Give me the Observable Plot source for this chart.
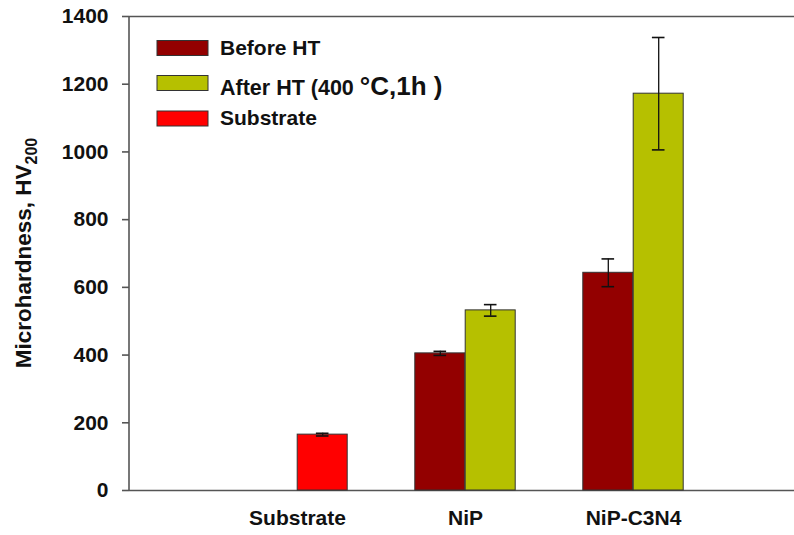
<!DOCTYPE html>
<html>
<head>
<meta charset="utf-8">
<script src="https://cdn.jsdelivr.net/npm/d3@7"></script>
<script src="https://cdn.jsdelivr.net/npm/@observablehq/plot@0.6"></script>
<style>
  html, body { margin: 0; padding: 0; background: #fff; overflow: hidden; }
  #chart { position: relative; width: 794px; height: 535px; }
  svg { font-family: "Liberation Sans", Arial, sans-serif; }
</style>
</head>
<body>
<div id="chart"></div>
<script>
// ---- data ----
const categories = ["Substrate", "NiP", "NiP-C3N4"];
const beforeHT = [null, 405, 643];
const beforeErr = [null, 6, 41];
const afterHT = [null, 532, 1172];
const afterErr = [null, 17, 166];
const substrateVals = [165, null, null];
const substrateErr = [4, null, null];
const seriesNames = ["Before HT", "After HT (400 °C,1h )", "Substrate"];
const seriesColors = ["#930000", "#b6c000", "#ff0000"];
const yTicks = [0, 200, 400, 600, 800, 1000, 1200, 1400];

// table: slot gives side within the category (-1 left, +1 right)
const rows = [];
categories.forEach((c, i) => {
  if (beforeHT[i] != null) rows.push({cat: c, series: seriesNames[0], value: beforeHT[i], err: beforeErr[i], slot: -1});
  if (afterHT[i] != null) rows.push({cat: c, series: seriesNames[1], value: afterHT[i], err: afterErr[i], slot: 1});
  if (substrateVals[i] != null) rows.push({cat: c, series: seriesNames[2], value: substrateVals[i], err: substrateErr[i], slot: 1});
});
const left = rows.filter(d => d.slot < 0);
const right = rows.filter(d => d.slot > 0);

const W = 794, H = 535;
const mL = 129, mT = 16, mB = 45;
const bw = 50.4;        // bar width = band width
const half = bw / 2;
const capInset = (bw - 13) / 2;

const common = (dx) => [
  Plot.barY(dx < 0 ? left : right, {x: "cat", y: "value", fill: "series", stroke: "#333", strokeWidth: 1, dx}),
  Plot.ruleX(dx < 0 ? left : right, {x: "cat", y1: d => d.value - d.err, y2: d => d.value + d.err, stroke: "#111", strokeWidth: 1.3, dx}),
  Plot.tickY(dx < 0 ? left : right, {x: "cat", y: d => d.value + d.err, stroke: "#111", strokeWidth: 1.6, insetLeft: capInset, insetRight: capInset, dx}),
  Plot.tickY(dx < 0 ? left : right, {x: "cat", y: d => d.value - d.err, stroke: "#111", strokeWidth: 1.6, insetLeft: capInset, insetRight: capInset, dx})
];

const plot = Plot.plot({
  width: W,
  height: H,
  marginLeft: mL,
  marginRight: 0,
  marginTop: mT,
  marginBottom: mB,
  style: {fontFamily: "Liberation Sans, Arial, sans-serif", background: "#fff"},
  x: {domain: categories, range: [213.5, 717.5], paddingInner: 0.7, paddingOuter: 0.35, label: null},
  y: {domain: [0, 1400], label: null},
  color: {domain: seriesNames, range: seriesColors},
  marks: [
    Plot.ruleY([0, 1400], {stroke: "#555", strokeWidth: 1.6}),
    ...common(-half),
    ...common(half),
    Plot.axisY({ticks: yTicks, tickFormat: d3.format("d"), tickSize: 7, tickPadding: 14, stroke: "#555", strokeWidth: 1.6, fontSize: 21, fontWeight: "bold", fill: "#111", label: null}),
    Plot.axisX({tickSize: 0, tickPadding: 20, fontSize: 21, fontWeight: "bold", fill: "#111", label: null})
  ]
});

document.getElementById("chart").appendChild(plot);

// y axis line and y label from the scales
const svg = d3.select(plot);
const yr = plot.scale("y").range;
svg.append("line")
  .attr("x1", mL).attr("x2", mL)
  .attr("y1", yr[0]).attr("y2", yr[1])
  .attr("stroke", "#555").attr("stroke-width", 1.6);

const yl = svg.append("text")
  .attr("transform", `translate(31, ${(yr[0] + yr[1]) / 2}) rotate(-90)`)
  .attr("text-anchor", "middle")
  .attr("font-size", 22.5).attr("font-weight", "bold").attr("fill", "#111")
  .attr("font-family", "Liberation Sans, Arial, sans-serif");
yl.append("tspan").text("Microhardness, HV");
yl.append("tspan").attr("font-size", 16).attr("dy", 6).text("200");

// legend
const lg = svg.append("g").attr("font-family", "Liberation Sans, Arial, sans-serif")
  .attr("font-weight", "bold").attr("fill", "#111").attr("text-anchor", "start");
const rowY = [48, 83, 118.5];
const textY = [55, 95, 125];
seriesNames.forEach((name, i) => {
  lg.append("rect").attr("x", 157).attr("y", rowY[i] - 7.5).attr("width", 51).attr("height", 15)
    .attr("fill", seriesColors[i]).attr("stroke", "#333").attr("stroke-width", 1);
  const t = lg.append("text").attr("x", 220).attr("y", textY[i]).attr("font-size", 21).attr("text-anchor", "start");
  if (i === 1) {
    t.append("tspan").attr("font-size", 21.5).text("After HT (400 ");
    t.append("tspan").attr("font-size", 26).text("°C,1h )");
  } else {
    t.text(name);
  }
});
</script>
</body>
</html>
